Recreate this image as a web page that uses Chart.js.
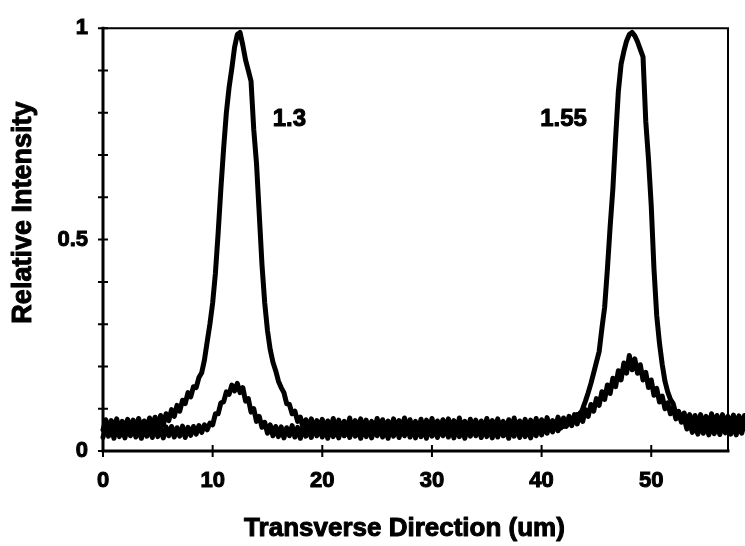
<!DOCTYPE html>
<html>
<head>
<meta charset="utf-8">
<script src="https://cdn.jsdelivr.net/npm/chart.js@4.4.1/dist/chart.umd.min.js"></script>
<style>
  html, body { margin: 0; padding: 0; background: #fff; }
  #wrap { width: 745px; height: 546px; }
</style>
</head>
<body>
<div id="wrap"><canvas id="c" width="745" height="546"></canvas></div>
<script>
// Transverse position of each sample (um)
const positionsUm = [
  0, 0.25, 0.5, 0.75, 1, 1.25, 1.5, 1.75,
  2, 2.25, 2.5, 2.75, 3, 3.25, 3.5, 3.75,
  4, 4.25, 4.5, 4.75, 5, 5.25, 5.5, 5.75,
  6, 6.25, 6.5, 6.75, 7, 7.25, 7.5, 7.75,
  8, 8.25, 8.5, 8.75, 9, 9.25, 9.5, 9.75,
  10, 10.25, 10.5, 10.75, 11, 11.25, 11.5, 11.75,
  12, 12.25, 12.5, 12.75, 13, 13.25, 13.5, 13.75,
  14, 14.25, 14.5, 14.75, 15, 15.25, 15.5, 15.75,
  16, 16.25, 16.5, 16.75, 17, 17.25, 17.5, 17.75,
  18, 18.25, 18.5, 18.75, 19, 19.25, 19.5, 19.75,
  20, 20.25, 20.5, 20.75, 21, 21.25, 21.5, 21.75,
  22, 22.25, 22.5, 22.75, 23, 23.25, 23.5, 23.75,
  24, 24.25, 24.5, 24.75, 25, 25.25, 25.5, 25.75,
  26, 26.25, 26.5, 26.75, 27, 27.25, 27.5, 27.75,
  28, 28.25, 28.5, 28.75, 29, 29.25, 29.5, 29.75,
  30, 30.25, 30.5, 30.75, 31, 31.25, 31.5, 31.75,
  32, 32.25, 32.5, 32.75, 33, 33.25, 33.5, 33.75,
  34, 34.25, 34.5, 34.75, 35, 35.25, 35.5, 35.75,
  36, 36.25, 36.5, 36.75, 37, 37.25, 37.5, 37.75,
  38, 38.25, 38.5, 38.75, 39, 39.25, 39.5, 39.75,
  40, 40.25, 40.5, 40.75, 41, 41.25, 41.5, 41.75,
  42, 42.25, 42.5, 42.75, 43, 43.25, 43.5, 43.75,
  44, 44.25, 44.5, 44.75, 45, 45.25, 45.5, 45.75,
  46, 46.25, 46.5, 46.75, 47, 47.25, 47.5, 47.75,
  48, 48.25, 48.5, 48.75, 49, 49.25, 49.5, 49.75,
  50, 50.25, 50.5, 50.75, 51, 51.25, 51.5, 51.75,
  52, 52.25, 52.5, 52.75, 53, 53.25, 53.5, 53.75,
  54, 54.25, 54.5, 54.75, 55, 55.25, 55.5, 55.75,
  56, 56.25, 56.5, 56.75, 57, 57.25, 57.5, 57.75,
  58, 58.25, 58.5
];

// Relative intensity, 1.3 um output (main lobe near 12 um)
const intensity13 = [
  0.050, 0.074, 0.048, 0.072, 0.052, 0.076, 0.047, 0.070,
  0.053, 0.075, 0.049, 0.073, 0.051, 0.077, 0.050, 0.071,
  0.056, 0.078, 0.054, 0.080, 0.058, 0.084, 0.062, 0.088,
  0.072, 0.098, 0.082, 0.108, 0.094, 0.120, 0.112, 0.138,
  0.128, 0.152, 0.150, 0.174, 0.185, 0.215, 0.258, 0.300,
  0.350, 0.420, 0.515, 0.620, 0.715, 0.800, 0.860, 0.905,
  0.955, 0.985, 0.990, 0.960, 0.925, 0.900, 0.875, 0.760,
  0.680, 0.560, 0.440, 0.350, 0.285, 0.240, 0.210, 0.190,
  0.165, 0.150, 0.138, 0.112, 0.110, 0.088, 0.094, 0.070,
  0.080, 0.054, 0.074, 0.050, 0.076, 0.048, 0.072, 0.052,
  0.075, 0.049, 0.071, 0.053, 0.077, 0.047, 0.073, 0.051,
  0.070, 0.050, 0.078, 0.048, 0.072, 0.054, 0.076, 0.049,
  0.073, 0.052, 0.070, 0.047, 0.077, 0.051, 0.074, 0.053,
  0.071, 0.048, 0.076, 0.050, 0.072, 0.054, 0.078, 0.049,
  0.074, 0.051, 0.070, 0.047, 0.075, 0.052, 0.073, 0.048,
  0.077, 0.050, 0.071, 0.053, 0.074, 0.049, 0.076, 0.051,
  0.072, 0.047, 0.078, 0.052, 0.070, 0.050, 0.075, 0.054,
  0.073, 0.049, 0.071, 0.048, 0.077, 0.053, 0.072, 0.050,
  0.076, 0.052, 0.070, 0.047, 0.074, 0.051, 0.078, 0.049,
  0.071, 0.054, 0.075, 0.050, 0.073, 0.048, 0.077, 0.052,
  0.074, 0.050, 0.079, 0.053, 0.072, 0.056, 0.080, 0.054,
  0.078, 0.058, 0.082, 0.060, 0.086, 0.064, 0.090, 0.070,
  0.098, 0.082, 0.110, 0.094, 0.124, 0.108, 0.140, 0.122,
  0.156, 0.136, 0.172, 0.152, 0.190, 0.168, 0.208, 0.184,
  0.226, 0.192, 0.218, 0.184, 0.204, 0.168, 0.186, 0.150,
  0.168, 0.132, 0.148, 0.116, 0.130, 0.100, 0.114, 0.088,
  0.102, 0.076, 0.094, 0.068, 0.090, 0.064, 0.086, 0.060,
  0.084, 0.058, 0.086, 0.062, 0.082, 0.056, 0.088, 0.060,
  0.084, 0.058, 0.086, 0.060, 0.082, 0.057, 0.085, 0.061,
  0.083, 0.058, 0.084
];

// Relative intensity, 1.55 um output (main lobe near 48 um)
const intensity155 = [
  0.032, 0.058, 0.035, 0.056, 0.030, 0.060, 0.034, 0.055,
  0.031, 0.057, 0.036, 0.059, 0.033, 0.054, 0.030, 0.058,
  0.035, 0.056, 0.032, 0.060, 0.034, 0.055, 0.031, 0.057,
  0.036, 0.058, 0.033, 0.055, 0.035, 0.059, 0.032, 0.056,
  0.037, 0.058, 0.040, 0.060, 0.044, 0.062, 0.050, 0.066,
  0.062, 0.088, 0.088, 0.114, 0.116, 0.140, 0.134, 0.156,
  0.142, 0.160, 0.138, 0.150, 0.118, 0.124, 0.092, 0.100,
  0.070, 0.082, 0.056, 0.068, 0.042, 0.062, 0.036, 0.058,
  0.034, 0.057, 0.031, 0.055, 0.036, 0.060, 0.033, 0.056,
  0.030, 0.058, 0.035, 0.054, 0.032, 0.059, 0.036, 0.057,
  0.033, 0.055, 0.030, 0.060, 0.034, 0.056, 0.031, 0.058,
  0.036, 0.054, 0.032, 0.059, 0.035, 0.057, 0.030, 0.055,
  0.034, 0.060, 0.031, 0.056, 0.036, 0.058, 0.033, 0.054,
  0.030, 0.057, 0.035, 0.059, 0.032, 0.055, 0.036, 0.060,
  0.033, 0.056, 0.031, 0.058, 0.034, 0.054, 0.030, 0.059,
  0.035, 0.057, 0.032, 0.055, 0.036, 0.060, 0.033, 0.056,
  0.031, 0.058, 0.034, 0.054, 0.030, 0.059, 0.035, 0.057,
  0.036, 0.055, 0.032, 0.060, 0.034, 0.056, 0.031, 0.058,
  0.033, 0.059, 0.036, 0.054, 0.030, 0.057, 0.035, 0.060,
  0.032, 0.056, 0.034, 0.058, 0.031, 0.055, 0.036, 0.059,
  0.038, 0.060, 0.042, 0.062, 0.045, 0.064, 0.048, 0.068,
  0.058, 0.070, 0.064, 0.076, 0.072, 0.086, 0.084, 0.100,
  0.118, 0.138, 0.160, 0.185, 0.210, 0.235, 0.290, 0.340,
  0.430, 0.530, 0.620, 0.740, 0.850, 0.915, 0.945, 0.970,
  0.985, 0.990, 0.982, 0.968, 0.950, 0.932, 0.780, 0.690,
  0.580, 0.430, 0.320, 0.255, 0.205, 0.165, 0.140, 0.122,
  0.112, 0.088, 0.092, 0.070, 0.078, 0.052, 0.068, 0.044,
  0.066, 0.040, 0.064, 0.042, 0.066, 0.038, 0.062, 0.041,
  0.065, 0.039, 0.063, 0.043, 0.067, 0.040, 0.064, 0.038,
  0.062, 0.042, 0.066
];

const xTicks = [0, 10, 20, 30, 40, 50];
const yTicks = [0, 0.5, 1];
const yMinorTicks = [0, 0.1, 0.2, 0.3, 0.4, 0.5, 0.6, 0.7, 0.8, 0.9, 1];
const xRange = [0, 57];
const yRange = [0, 1];

const xTitle = 'Transverse Direction (um)';
const yTitle = 'Relative Intensity';

// Wavelength tags placed beside each main lobe (data coordinates)
const peakLabels = ['1.3', '1.55'];
const peakLabelX = [17.0, 42.0];
const peakLabelY = [0.785, 0.785];

const FONT = '"Liberation Sans", Arial, sans-serif';

const toPoints = ys => positionsUm.map((x, i) => ({ x, y: ys[i] }));

const lineStyle = {
  borderColor: '#000',
  borderWidth: 5,
  pointRadius: 0,
  tension: 0,
  fill: false,
  clip: false,
  borderJoinStyle: 'round',
  borderCapStyle: 'round'
};

// heavy text: fill plus a thin outline in the same colour
function heavyText(ctx, text, px, py) {
  ctx.fillText(text, px, py);
  ctx.strokeText(text, px, py);
}

// Plot frame, crossing tick marks, axis titles and the wavelength tags
const framePlugin = {
  id: 'frame',
  afterDatasetsDraw(chart) {
    const { ctx, chartArea: a, scales: { x, y } } = chart;
    ctx.save();
    ctx.strokeStyle = '#000';
    ctx.lineCap = 'square';

    ctx.lineWidth = 2;
    ctx.beginPath();
    ctx.moveTo(a.left, a.top);
    ctx.lineTo(a.right, a.top);
    ctx.lineTo(a.right, a.bottom);
    ctx.stroke();

    ctx.lineWidth = 3;
    ctx.beginPath();
    ctx.moveTo(a.left, a.top);
    ctx.lineTo(a.left, a.bottom);
    ctx.lineTo(a.right, a.bottom);
    ctx.stroke();

    ctx.lineWidth = 2;
    ctx.lineCap = 'butt';
    ctx.beginPath();
    yMinorTicks.forEach(v => {
      const py = y.getPixelForValue(v);
      ctx.moveTo(a.left - 5, py);
      ctx.lineTo(a.left + 5, py);
    });
    xTicks.forEach(v => {
      const px = x.getPixelForValue(v);
      ctx.moveTo(px, a.bottom - 6);
      ctx.lineTo(px, a.bottom + 6);
    });
    ctx.stroke();

    ctx.fillStyle = '#000';
    ctx.lineWidth = 1;
    ctx.lineJoin = 'round';
    ctx.textAlign = 'center';
    ctx.textBaseline = 'middle';

    ctx.font = 'bold 24px ' + FONT;
    peakLabels.forEach((t, i) => {
      heavyText(ctx, t, x.getPixelForValue(peakLabelX[i]), y.getPixelForValue(peakLabelY[i]));
    });

    ctx.font = 'bold 26px ' + FONT;
    heavyText(ctx, xTitle, (a.left + a.right) / 2 - 11, 529);

    ctx.save();
    ctx.translate(24, (a.top + a.bottom) / 2 - 27);
    ctx.rotate(-Math.PI / 2);
    ctx.font = 'bold 27px ' + FONT;
    heavyText(ctx, yTitle, 0, 0);
    ctx.restore();

    ctx.restore();
  }
};

new Chart(document.getElementById('c'), {
  type: 'line',
  data: {
    datasets: [
      Object.assign({ label: '1.3', data: toPoints(intensity13) }, lineStyle),
      Object.assign({ label: '1.55', data: toPoints(intensity155) }, lineStyle)
    ]
  },
  options: {
    responsive: false,
    animation: false,
    events: [],
    layout: { padding: { top: 18, right: 17, bottom: 0, left: 0 } },
    plugins: { legend: { display: false }, tooltip: { enabled: false } },
    scales: {
      x: {
        type: 'linear',
        bounds: 'data',
        // range set after the data limits so the trace can run past the right frame
        afterDataLimits: s => { s.min = xRange[0]; s.max = xRange[1]; },
        afterBuildTicks: s => { s.ticks = xTicks.map(v => ({ value: v })); },
        afterFit: s => { s.height = 95; },
        grid: { display: false, drawTicks: false },
        border: { display: false },
        ticks: {
          color: '#000',
          padding: 17,
          textStrokeColor: '#000',
          textStrokeWidth: 1,
          font: { family: FONT, size: 22, weight: 'bold' }
        },
        title: { display: false }
      },
      y: {
        type: 'linear',
        min: yRange[0],
        max: yRange[1],
        afterBuildTicks: s => { s.ticks = yTicks.map(v => ({ value: v })); },
        afterFit: s => { s.width = 103; },
        grid: { display: false, drawTicks: false },
        border: { display: false },
        ticks: {
          color: '#000',
          padding: 15,
          textStrokeColor: '#000',
          textStrokeWidth: 1,
          font: { family: FONT, size: 22, weight: 'bold' },
          callback: v => String(v)
        },
        title: { display: false }
      }
    }
  },
  plugins: [framePlugin]
});
</script>
</body>
</html>
